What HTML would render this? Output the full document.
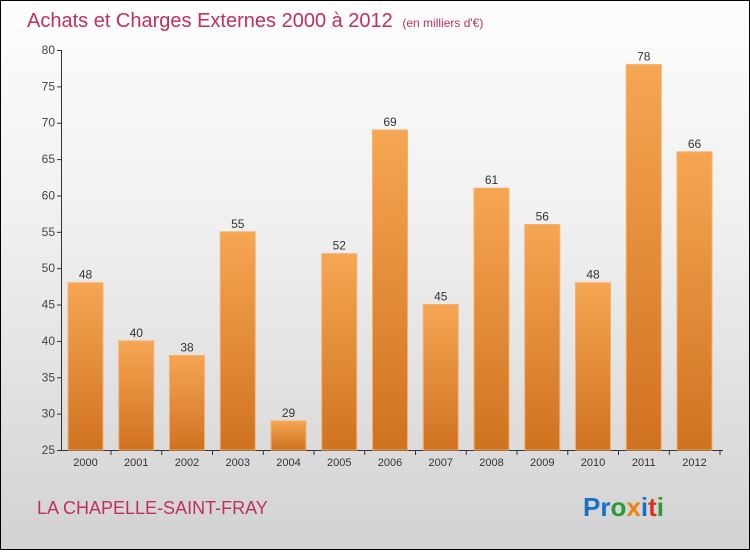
<!DOCTYPE html>
<html><head><meta charset="utf-8"><style>
body{margin:0}
#c{width:748px;height:548px;border:1px solid #000;background:linear-gradient(#fdfdfd 0%,#f0f0f0 40%,#d2d2d2 100%);position:relative;font-family:"Liberation Sans",sans-serif}
</style></head><body>
<div id="c">
<svg id="s" width="748" height="548">
<defs><linearGradient id="g" x1="0" y1="0" x2="0" y2="1"><stop offset="0" stop-color="#f6a653"/><stop offset="1" stop-color="#cf7220"/></linearGradient></defs>
<text x="26" y="26" font-size="20" fill="#c0305e">Achats et Charges Externes 2000 à 2012 <tspan font-size="12" dx="4">(en milliers d'€)</tspan></text>
<text x="36" y="513" font-size="18" fill="#c0305e">LA CHAPELLE-SAINT-FRAY</text>
<text x="582" y="515" font-size="26" font-weight="bold"><tspan fill="#1a6fc8">Pr</tspan><tspan fill="#2a9a3a">o</tspan><tspan fill="#f08010">x</tspan><tspan fill="#1a6fc8">i</tspan><tspan fill="#e03020">t</tspan><tspan fill="#2a9a3a">i</tspan></text>
<g id="plot"></g>
</svg>
</div>
<script>
const categories=["2000","2001","2002","2003","2004","2005","2006","2007","2008","2009","2010","2011","2012"];
const values=[48,40,38,55,29,52,69,45,61,56,48,78,66];
const ticks=[25,30,35,40,45,50,55,60,65,70,75,80];
const NS="http://www.w3.org/2000/svg";
const p=document.getElementById('plot');
const y=v=>449-(v-25)*(400/55);
const x=i=>84.5+i*50.75;
function el(t,a,txt){const e=document.createElementNS(NS,t);for(const k in a)e.setAttribute(k,a[k]);if(txt!=null)e.textContent=txt;p.appendChild(e);return e;}
let ax=el('line',{x1:60.5,x2:60.5,y1:y(80),y2:y(25),stroke:'#333'});


let bx=el('line',{x1:60,x2:722,y1:y(25)+0.5,y2:y(25)+0.5,stroke:'#333'});


ticks.forEach(t=>{
 el('line',{x1:56,x2:61,y1:y(t)+0.5,y2:y(t)+0.5,stroke:'#333'});
 const l=el('text',{x:54,y:y(t)+4,'font-size':12,fill:'#444','text-anchor':'end'},t);
 
 
});
categories.forEach((c,i)=>{
 const v=values[i];
 const r=el('rect',{x:x(i)-17.5,y:y(v),width:35,height:y(25)-y(v),fill:'url(#g)',stroke:'#f7b06a','stroke-width':1});
 
 
 const vl=el('text',{x:x(i),y:y(v)-4,'font-size':12,fill:'#333','text-anchor':'middle'},v);
 
 
 el('line',{x1:x(i)+25.5,x2:x(i)+25.5,y1:y(25),y2:y(25)+5,stroke:'#333'});
 const cl=el('text',{x:x(i),y:y(25)+16,'font-size':11,fill:'#333','text-anchor':'middle'},c);
 
 
});
</script>
</body></html>
